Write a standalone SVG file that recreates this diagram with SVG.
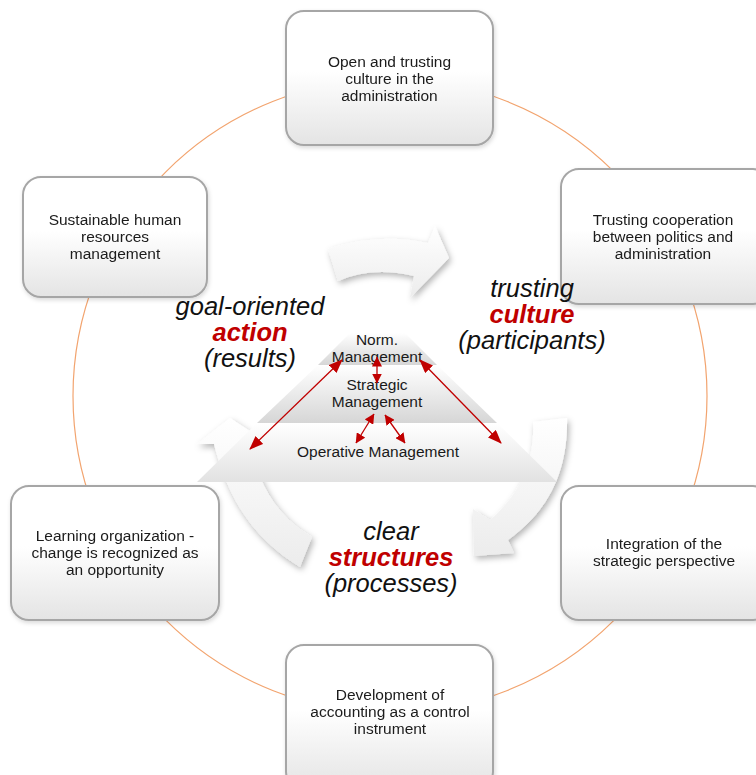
<svg xmlns="http://www.w3.org/2000/svg" width="756" height="775" viewBox="0 0 756 775">
<defs>
<style>
.box{fill:url(#boxg);stroke:#a6a6a6;stroke-width:2}
.nt{font-family:"Liberation Sans",Arial,sans-serif;font-size:15.5px;fill:#1a1a1a;text-anchor:middle}
.pt{font-family:"Liberation Sans",Arial,sans-serif;font-size:15.5px;fill:#1a1a1a;text-anchor:middle}
.big{font-family:"Liberation Sans",Arial,sans-serif;font-size:25.5px;font-style:italic;fill:#111;text-anchor:middle}
.red{font-weight:bold;fill:#c00000}
.arw{fill:url(#arrg);filter:url(#sh)}
.ra{stroke:#c00000;stroke-width:1.3;fill:none;marker-start:url(#mh);marker-end:url(#mh)}
.rs{stroke:#c00000;stroke-width:1.3;fill:none;marker-start:url(#ms);marker-end:url(#ms)}
</style>
<linearGradient id="boxg" x1="0" y1="0" x2="0" y2="1">
<stop offset="0" stop-color="#ffffff"/><stop offset="0.45" stop-color="#ffffff"/><stop offset="1" stop-color="#e4e4e4"/>
</linearGradient>
<linearGradient id="arrg" x1="0" y1="0" x2="0" y2="1">
<stop offset="0" stop-color="#ffffff"/><stop offset="1" stop-color="#ececec"/>
</linearGradient>
<linearGradient id="g1" x1="0" y1="0" x2="0" y2="1">
<stop offset="0" stop-color="#ffffff"/><stop offset="1" stop-color="#d6d6d6"/>
</linearGradient>
<linearGradient id="g3" x1="0" y1="0" x2="0" y2="1">
<stop offset="0" stop-color="#ffffff"/><stop offset="1" stop-color="#e2e2e2"/>
</linearGradient>
<filter id="sh" x="-20%" y="-20%" width="150%" height="150%">
<feDropShadow dx="2" dy="3" stdDeviation="3" flood-color="#000" flood-opacity="0.3"/>
</filter>
<filter id="bsh" x="-10%" y="-10%" width="120%" height="125%">
<feDropShadow dx="1" dy="2" stdDeviation="2" flood-color="#000" flood-opacity="0.15"/>
</filter>
<marker id="mh" viewBox="0 0 14 11" refX="13" refY="5.5" markerWidth="14" markerHeight="11" markerUnits="userSpaceOnUse" orient="auto-start-reverse">
<path d="M0,0 L14,5.5 L0,11 Z" fill="#c00000"/>
</marker>
<marker id="ms" viewBox="0 0 10 10" refX="9.5" refY="5" markerWidth="10" markerHeight="10" markerUnits="userSpaceOnUse" orient="auto-start-reverse">
<path d="M0,0 L10,5 L0,10 Z" fill="#c00000"/>
</marker>
</defs>
<rect width="756" height="775" fill="#ffffff"/>
<circle cx="390" cy="396" r="317" fill="none" stroke="#f2a46f" stroke-width="1.2"/>

<g id="node-top" filter="url(#bsh)">
<rect class="box" x="286" y="11" width="207" height="134" rx="18"/>
<text class="nt" x="389.5" y="67">Open and trusting</text>
<text class="nt" x="389.5" y="84">culture in the</text>
<text class="nt" x="389.5" y="101">administration</text>
</g>
<g id="node-topleft" filter="url(#bsh)">
<rect class="box" x="23" y="177" width="184" height="120" rx="18"/>
<text class="nt" x="115" y="225">Sustainable human</text>
<text class="nt" x="115" y="242">resources</text>
<text class="nt" x="115" y="259">management</text>
</g>
<g id="node-topright" filter="url(#bsh)">
<rect class="box" x="561" y="169" width="210" height="135" rx="18"/>
<text class="nt" x="663" y="225">Trusting cooperation</text>
<text class="nt" x="663" y="242">between politics and</text>
<text class="nt" x="663" y="259">administration</text>
</g>
<g id="node-bottomleft" filter="url(#bsh)">
<rect class="box" x="11" y="486" width="208" height="134" rx="18"/>
<text class="nt" x="115" y="541">Learning organization -</text>
<text class="nt" x="115" y="558">change is recognized as</text>
<text class="nt" x="115" y="575">an opportunity</text>
</g>
<g id="node-bottomright" filter="url(#bsh)">
<rect class="box" x="561" y="486" width="210" height="134" rx="18"/>
<text class="nt" x="664" y="549">Integration of the</text>
<text class="nt" x="664" y="566">strategic perspective</text>
</g>
<g id="node-bottom" filter="url(#bsh)">
<rect class="box" x="286" y="645" width="207" height="145" rx="18"/>
<text class="nt" x="390" y="700">Development of</text>
<text class="nt" x="390" y="717">accounting as a control</text>
<text class="nt" x="390" y="734">instrument</text>
</g>

<g id="cycle-arrows">
<path class="arw" d="M328,249 Q378,232 428,243 L435,226 L449,258 L410,298 L414,276 Q372,266 338,281 Z"/>
<path class="arw" d="M533,422 L567,418 C568,470 550,510 508,540 L514,553 L474,556 L473,509 L490,520 C520,495 535,460 533,422 Z"/>
<path class="arw" d="M300,567 C255,540 228,500 214,444 L197,444 L230,418 L265,441 L250,444 C260,490 280,518 312,537 Z"/>
</g>

<g id="pyramid">
<polygon points="350,333 405,333 437,365 318,365" fill="url(#g1)"/>
<polygon points="318,365 437,365 497,423 257,423" fill="url(#g1)"/>
<polygon points="257,423 497,423 557,482 197,482" fill="url(#g3)"/>
<text class="pt" x="377" y="345">Norm.</text>
<text class="pt" x="377" y="362">Management</text>
<text class="pt" x="377" y="390">Strategic</text>
<text class="pt" x="377" y="407">Management</text>
<text class="pt" x="378" y="457">Operative Management</text>
</g>

<g id="connectors">
<line class="ra" x1="342" y1="360" x2="250" y2="449"/>
<line class="ra" x1="420" y1="360" x2="501" y2="443"/>
<line class="rs" x1="377" y1="357" x2="377" y2="383"/>
<line class="rs" x1="374" y1="414" x2="356" y2="443"/>
<line class="rs" x1="385" y1="415" x2="405" y2="443"/>
</g>

<g id="labels">
<text class="big" x="250" y="315">goal-oriented</text>
<text class="big red" x="250" y="341">action</text>
<text class="big" x="250" y="367">(results)</text>
<text class="big" x="532" y="297">trusting</text>
<text class="big red" x="532" y="323">culture</text>
<text class="big" x="532" y="349">(participants)</text>
<text class="big" x="391" y="540">clear</text>
<text class="big red" x="391" y="566">structures</text>
<text class="big" x="391" y="592">(processes)</text>
</g>
</svg>
